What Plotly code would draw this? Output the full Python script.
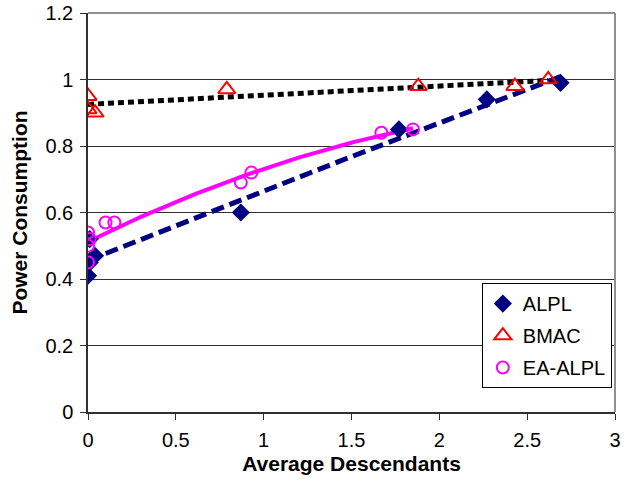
import numpy as np
import plotly.graph_objects as go

# Measured series: average descendants vs. normalized power consumption
alpl_x = [0.0, 0.01, 0.04, 0.01, 0.87, 1.77, 2.27, 2.69]
alpl_y = [0.41, 0.45, 0.47, 0.52, 0.60, 0.85, 0.94, 0.99]

bmac_x = [0.0, 0.0, 0.04, 0.79, 1.88, 2.43, 2.62]
bmac_y = [0.95, 0.91, 0.90, 0.97, 0.98, 0.98, 1.00]

ea_x = [0.0, 0.01, 0.0, 0.0, 0.10, 0.15, 0.87, 0.93, 1.67, 1.85]
ea_y = [0.54, 0.52, 0.50, 0.45, 0.57, 0.57, 0.69, 0.72, 0.84, 0.85]

x_ticks = [0, 0.5, 1, 1.5, 2, 2.5, 3]
y_ticks = [0, 0.2, 0.4, 0.6, 0.8, 1, 1.2]


def trend(xs, ys, deg):
    """Least-squares trendline over the span of the data."""
    coef = np.polyfit(xs, ys, deg)
    xx = np.linspace(min(xs), max(xs), 80)
    return xx, np.polyval(coef, xx)


fig = go.Figure()

# trendlines (not shown in legend)
tx, ty = trend(bmac_x, bmac_y, 1)
fig.add_trace(go.Scatter(x=tx, y=ty, mode="lines", showlegend=False, hoverinfo="skip",
                         line=dict(color="black", width=5, dash="6px,4px")))
tx, ty = trend(alpl_x, alpl_y, 2)
fig.add_trace(go.Scatter(x=tx, y=ty, mode="lines", showlegend=False, hoverinfo="skip",
                         line=dict(color="#000080", width=5, dash="13px,6px")))
tx, ty = trend(ea_x, ea_y, 2)
fig.add_trace(go.Scatter(x=tx, y=ty, mode="lines", showlegend=False, hoverinfo="skip",
                         line=dict(color="#FF00FF", width=4)))

# data markers
fig.add_trace(go.Scatter(x=alpl_x, y=alpl_y, mode="markers", name="ALPL", legendgroup="a",
                         marker=dict(symbol="diamond", size=14, color="#000080")))
fig.add_trace(go.Scatter(x=bmac_x, y=bmac_y, mode="markers", name="BMAC", legendgroup="b",
                         marker=dict(symbol="triangle-up-open", size=15, color="#FF0000",
                                     line=dict(width=2, color="#FF0000"))))
fig.add_trace(go.Scatter(x=ea_x, y=ea_y, mode="markers", name="EA-ALPL", legendgroup="c",
                         marker=dict(symbol="circle-open", size=12, color="#FF00FF",
                                     line=dict(width=2, color="#FF00FF"))))

font = "Liberation Sans, Arial, sans-serif"

fig.update_layout(
    width=635, height=481,
    margin=dict(l=88, r=20, t=13, b=69),
    paper_bgcolor="white", plot_bgcolor="white",
    font=dict(family=font, size=20, color="black"),
    showlegend=True,
    legend=dict(x=0.994, y=0.06, xanchor="right", yanchor="bottom",
                bgcolor="white", bordercolor="black", borderwidth=1,
                font=dict(size=20), tracegroupgap=3, itemwidth=30),
    xaxis=dict(range=[0, 3], tickvals=x_ticks, ticktext=[f"{v:g}" for v in x_ticks],
               showgrid=False, zeroline=False, showline=True, linecolor="#303030",
               linewidth=1.5, ticks="outside", ticklen=6, tickcolor="#303030",
               automargin=False, tickfont=dict(size=20), ticklabelstandoff=3,
               title=dict(text="<b>Average Descendants</b>", font=dict(size=21), standoff=7)),
    yaxis=dict(range=[0, 1.2], tickvals=y_ticks, ticktext=[f"{v:g}" for v in y_ticks],
               showgrid=True, gridcolor="#303030", gridwidth=1, zeroline=False,
               showline=True, linecolor="#303030", linewidth=1.5, ticks="outside",
               ticklen=6, tickcolor="#303030", automargin=False, tickfont=dict(size=20),
               ticklabelstandoff=3,
               title=dict(text="<b>Power Consumption</b>", font=dict(size=21), standoff=12)),
)

# top and right frame of the plot area
fig.add_shape(type="line", xref="paper", yref="paper", x0=0, x1=1, y0=1, y1=1,
              line=dict(color="#909090", width=2))
fig.add_shape(type="line", xref="paper", yref="paper", x0=1, x1=1, y0=0, y1=1,
              line=dict(color="#909090", width=2))

fig.write_html("out.html")
